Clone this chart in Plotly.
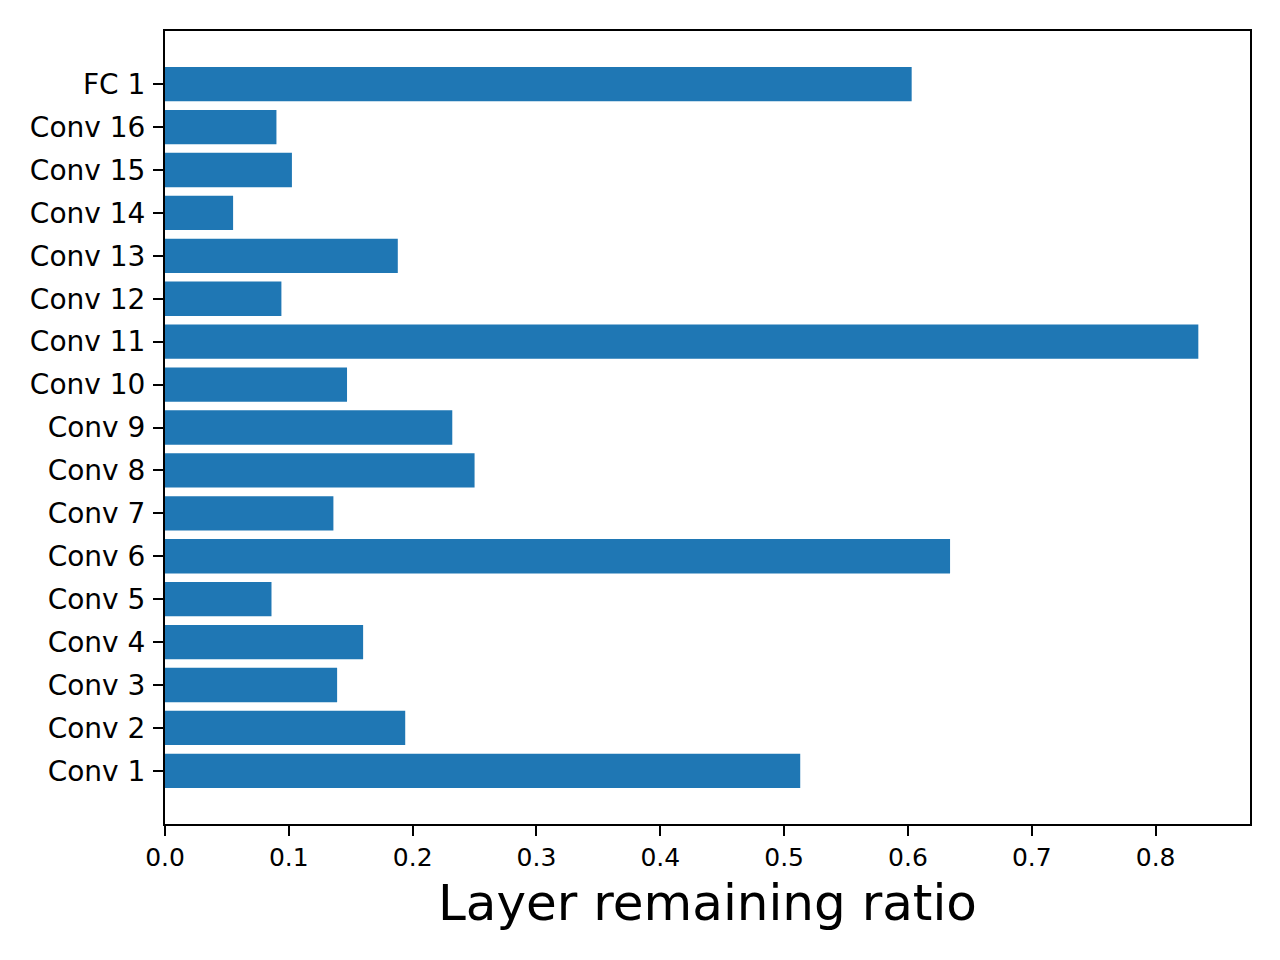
import plotly.graph_objects as go

layers = ["Conv 1", "Conv 2", "Conv 3", "Conv 4", "Conv 5", "Conv 6", "Conv 7", "Conv 8",
          "Conv 9", "Conv 10", "Conv 11", "Conv 12", "Conv 13", "Conv 14", "Conv 15",
          "Conv 16", "FC 1"]
ratios = [0.513, 0.194, 0.139, 0.160, 0.086, 0.634, 0.136, 0.250,
          0.232, 0.147, 0.8345, 0.094, 0.188, 0.055, 0.1025, 0.090, 0.603]
x_ticks = [0.0, 0.1, 0.2, 0.3, 0.4, 0.5, 0.6, 0.7, 0.8]

positions = list(range(len(layers)))
xmax = max(ratios) * 1.05

fig = go.Figure(go.Bar(
    x=ratios, y=positions, orientation="h", width=0.8,
    marker=dict(color="#1f77b4", line=dict(width=0)),
))

axis_common = dict(
    showline=True, linecolor="black", linewidth=2, mirror=True,
    ticks="outside", ticklen=10, tickwidth=2, tickcolor="black",
    showgrid=False, zeroline=False,
)

fig.update_layout(
    width=1280, height=960,
    margin=dict(l=157, r=38, t=23, b=144),
    paper_bgcolor="white", plot_bgcolor="white",
    font=dict(family="DejaVu Sans", color="black"),
    showlegend=False,
    xaxis=dict(
        range=[0, xmax], tickvals=x_ticks, ticktext=[f"{v:.1f}" for v in x_ticks],
        tickfont=dict(size=25),
        title=dict(text="Layer remaining ratio", font=dict(size=50), standoff=14),
        **axis_common,
    ),
    yaxis=dict(
        range=[-1.24, len(layers) - 1 + 1.24], tickvals=positions, ticktext=layers,
        tickfont=dict(size=28), ticklabelstandoff=2,
        **axis_common,
    ),
)

fig.write_html("out.html")
